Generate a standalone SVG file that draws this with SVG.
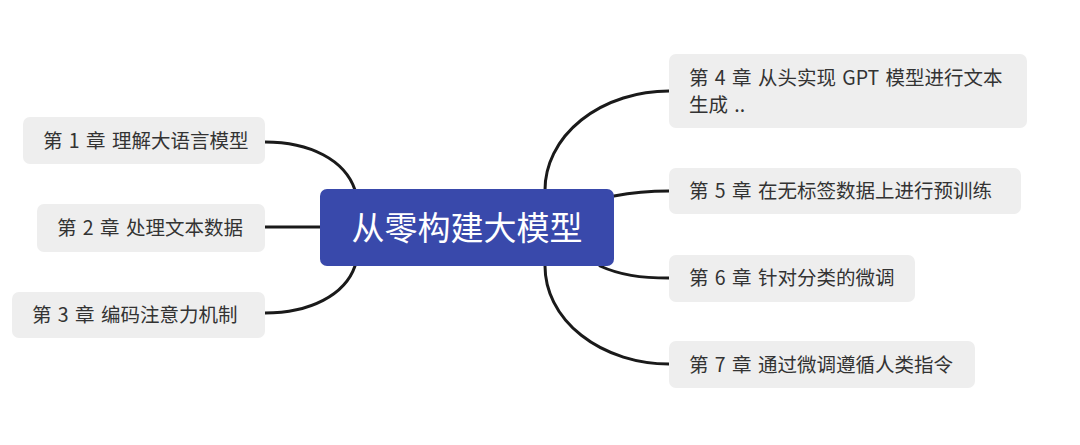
<svg xmlns="http://www.w3.org/2000/svg" width="1080" height="445" viewBox="0 0 1080 445">
<style>
.n rect{fill:#eeeeee}
.n text{font-family:"Noto Sans CJK SC","Noto Sans",sans-serif;font-size:19.5px;fill:#333333;word-spacing:2px}
.c rect{fill:#3949ab}
.c text{font-family:"Noto Sans CJK SC","Noto Sans",sans-serif;font-size:33px;fill:#ffffff;text-anchor:middle}
#edges path{fill:none;stroke:#1a1a1a;stroke-width:3;stroke-linecap:round}
</style>
<rect width="1080" height="445" fill="#ffffff"/>
<g id="edges">
<path d="M265,142 C310,142 345,160 355,190"/>
<path d="M265,227 L320,227"/>
<path d="M265,313 C310,313 345,295 355,266"/>
<path d="M545,190 A124,99 0 0 1 669,91"/>
<path d="M614,196 C635,192 650,191 669,191"/>
<path d="M600,266 C620,275 640,278 669,278"/>
<path d="M545,266 A124,98 0 0 0 669,364"/>
</g>
<g id="root" class="c">
<rect x="320" y="189" width="294" height="77" rx="7"/>
<text x="467" y="240">从零构建大模型</text>
</g>
<g id="ch1" class="n">
<rect x="23" y="117" width="242" height="47" rx="7"/>
<text x="43" y="148">第 1 章 理解大语言模型</text>
</g>
<g id="ch2" class="n">
<rect x="37" y="204" width="228" height="48" rx="7"/>
<text x="57" y="235">第 2 章 处理文本数据</text>
</g>
<g id="ch3" class="n">
<rect x="12" y="292" width="253" height="46" rx="7"/>
<text x="32" y="322">第 3 章 编码注意力机制</text>
</g>
<g id="ch4" class="n">
<rect x="669" y="54" width="358" height="74" rx="7"/>
<text x="689" y="85">第 4 章 从头实现 GPT 模型进行文本</text>
<text x="689" y="112">生成 ..</text>
</g>
<g id="ch5" class="n">
<rect x="669" y="168" width="352" height="46" rx="7"/>
<text x="689" y="198">第 5 章 在无标签数据上进行预训练</text>
</g>
<g id="ch6" class="n">
<rect x="669" y="255" width="246" height="47" rx="7"/>
<text x="689" y="285">第 6 章 针对分类的微调</text>
</g>
<g id="ch7" class="n">
<rect x="669" y="341" width="306" height="47" rx="7"/>
<text x="689" y="372">第 7 章 通过微调遵循人类指令</text>
</g>
</svg>
